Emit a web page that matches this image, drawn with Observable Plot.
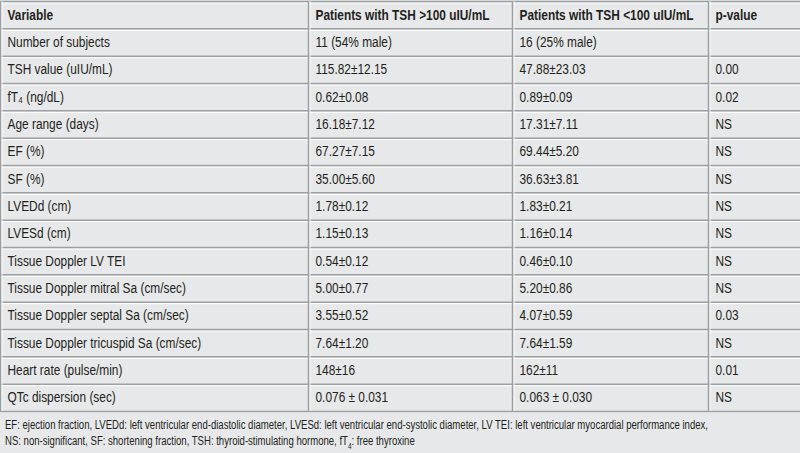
<!DOCTYPE html>
<html>
<head>
<meta charset="utf-8">
<script src="https://cdn.jsdelivr.net/npm/d3@7"></script>
<script src="https://cdn.jsdelivr.net/npm/@observablehq/plot@0.6"></script>
<style>
  html, body { margin: 0; padding: 0; background: #e7e8e9; width: 800px; height: 453px; overflow: hidden; }
  #chart svg { display: block; }
  .foot { font-family: "Liberation Sans", Arial, sans-serif; font-size: 12.5px; color: #231f20; padding-left: 5px; margin-top: 5px; }
  .foot div { white-space: nowrap; transform-origin: left top; height: 16px; line-height: 15px; }
</style>
</head>
<body>
<div id="chart"></div>
<div class="foot">
  <div><span>EF: ejection fraction, LVEDd: left ventricular end-diastolic diameter, LVESd: left ventricular end-systolic diameter, LV TEI: left ventricular myocardial performance index,</span></div>
  <div><span>NS: non-significant, SF: shortening fraction, TSH: thyroid-stimulating hormone, fT<sub style="font-size:8.5px">4</sub>: free thyroxine</span></div>
</div>
<script>
const headers = ["Variable", "Patients with TSH >100 uIU/mL", "Patients with TSH <100 uIU/mL", "p-value"];
const variables = [
  "Number of subjects", "TSH value (uIU/mL)", "fT\u2084 (ng/dL)", "Age range (days)", "EF (%)", "SF (%)",
  "LVEDd (cm)", "LVESd (cm)", "Tissue Doppler LV TEI", "Tissue Doppler mitral Sa (cm/sec)",
  "Tissue Doppler septal Sa (cm/sec)", "Tissue Doppler tricuspid Sa (cm/sec)", "Heart rate (pulse/min)", "QTc dispersion (sec)"
];
const tshHigh = [
  "11 (54% male)", "115.82\u00b112.15", "0.62\u00b10.08", "16.18\u00b17.12", "67.27\u00b17.15", "35.00\u00b15.60",
  "1.78\u00b10.12", "1.15\u00b10.13", "0.54\u00b10.12", "5.00\u00b10.77", "3.55\u00b10.52", "7.64\u00b11.20", "148\u00b116", "0.076 \u00b1 0.031"
];
const tshLow = [
  "16 (25% male)", "47.88\u00b123.03", "0.89\u00b10.09", "17.31\u00b17.11", "69.44\u00b15.20", "36.63\u00b13.81",
  "1.83\u00b10.21", "1.16\u00b10.14", "0.46\u00b10.10", "5.20\u00b10.86", "4.07\u00b10.59", "7.64\u00b11.59", "162\u00b111", "0.063 \u00b1 0.030"
];
const pValues = ["", "0.00", "0.02", "NS", "NS", "NS", "NS", "NS", "NS", "NS", "0.03", "NS", "0.01", "NS"];

// layout
const colEdges = [0, 308, 512, 708, 800];
const nRows = variables.length + 1;
const headCells = headers.map((h, c) => ({row: 0, col: c, text: h}));
const bodyCells = [];
variables.forEach((v, i) => {
  [v, tshHigh[i], tshLow[i], pValues[i]].forEach((t, c) => bodyCells.push({row: i + 1, col: c, text: t}));
});
const hLines = d3.range(0, nRows + 1);
const vLines = colEdges.slice(0, 4);
const font = "'Liberation Sans', Arial, sans-serif";
const textOpts = {
  x: d => colEdges[d.col], y: d => d.row + 0.5, text: "text",
  textAnchor: "start", dx: 7, fontSize: 14.5, fill: "#231f20", fontFamily: font
};

const chart = Plot.plot({
  width: 800, height: 413,
  margin: 0, marginTop: 1, marginBottom: 2,
  style: {background: "#e7e8e9", fontFamily: font},
  x: {type: "linear", domain: [0, 800], range: [0, 800], axis: null},
  y: {type: "linear", domain: [0, nRows], range: [1, 411], axis: null},
  marks: [
    Plot.ruleY(hLines, {y: d => d, x1: 0, x2: 800, stroke: "#ffffff", strokeWidth: 1, dy: 1.5}),
    Plot.ruleY(hLines, {y: d => d, x1: 0, x2: 800, stroke: "#9d9fa2", strokeWidth: 1.5}),
    Plot.ruleX(vLines, {x: d => d, y1: 0, y2: nRows, stroke: "#ffffff", strokeWidth: 1, dx: 1.5}),
    Plot.ruleX(vLines, {x: d => d, y1: 0, y2: nRows, stroke: "#9d9fa2", strokeWidth: 1.5}),
    Plot.text(headCells, {...textOpts, fontWeight: "bold"}),
    Plot.text(bodyCells, {...textOpts})
  ]
});
document.getElementById("chart").appendChild(chart);

// condensed look: narrow each cell text horizontally around its anchor
const SX = 0.82;
d3.select(chart).selectAll("text").each(function() {
  const t = this.getAttribute("transform");
  if (t && t.includes("translate")) {
    this.setAttribute("transform", t + ` scale(${SX},1)`);
  } else {
    const x = +this.getAttribute("x") || 0, y = +this.getAttribute("y") || 0;
    this.removeAttribute("x"); this.removeAttribute("y");
    this.setAttribute("transform", `translate(${x},${y}) scale(${SX},1)`);
  }
});

// footnote: condense to fit the reference line width
const lines = document.querySelectorAll(".foot div");
const w0 = lines[0].querySelector("span").getBoundingClientRect().width;
const fs = 703 / w0;
lines.forEach(l => { l.style.transform = `scaleX(${fs})`; });
</script>
</body>
</html>
